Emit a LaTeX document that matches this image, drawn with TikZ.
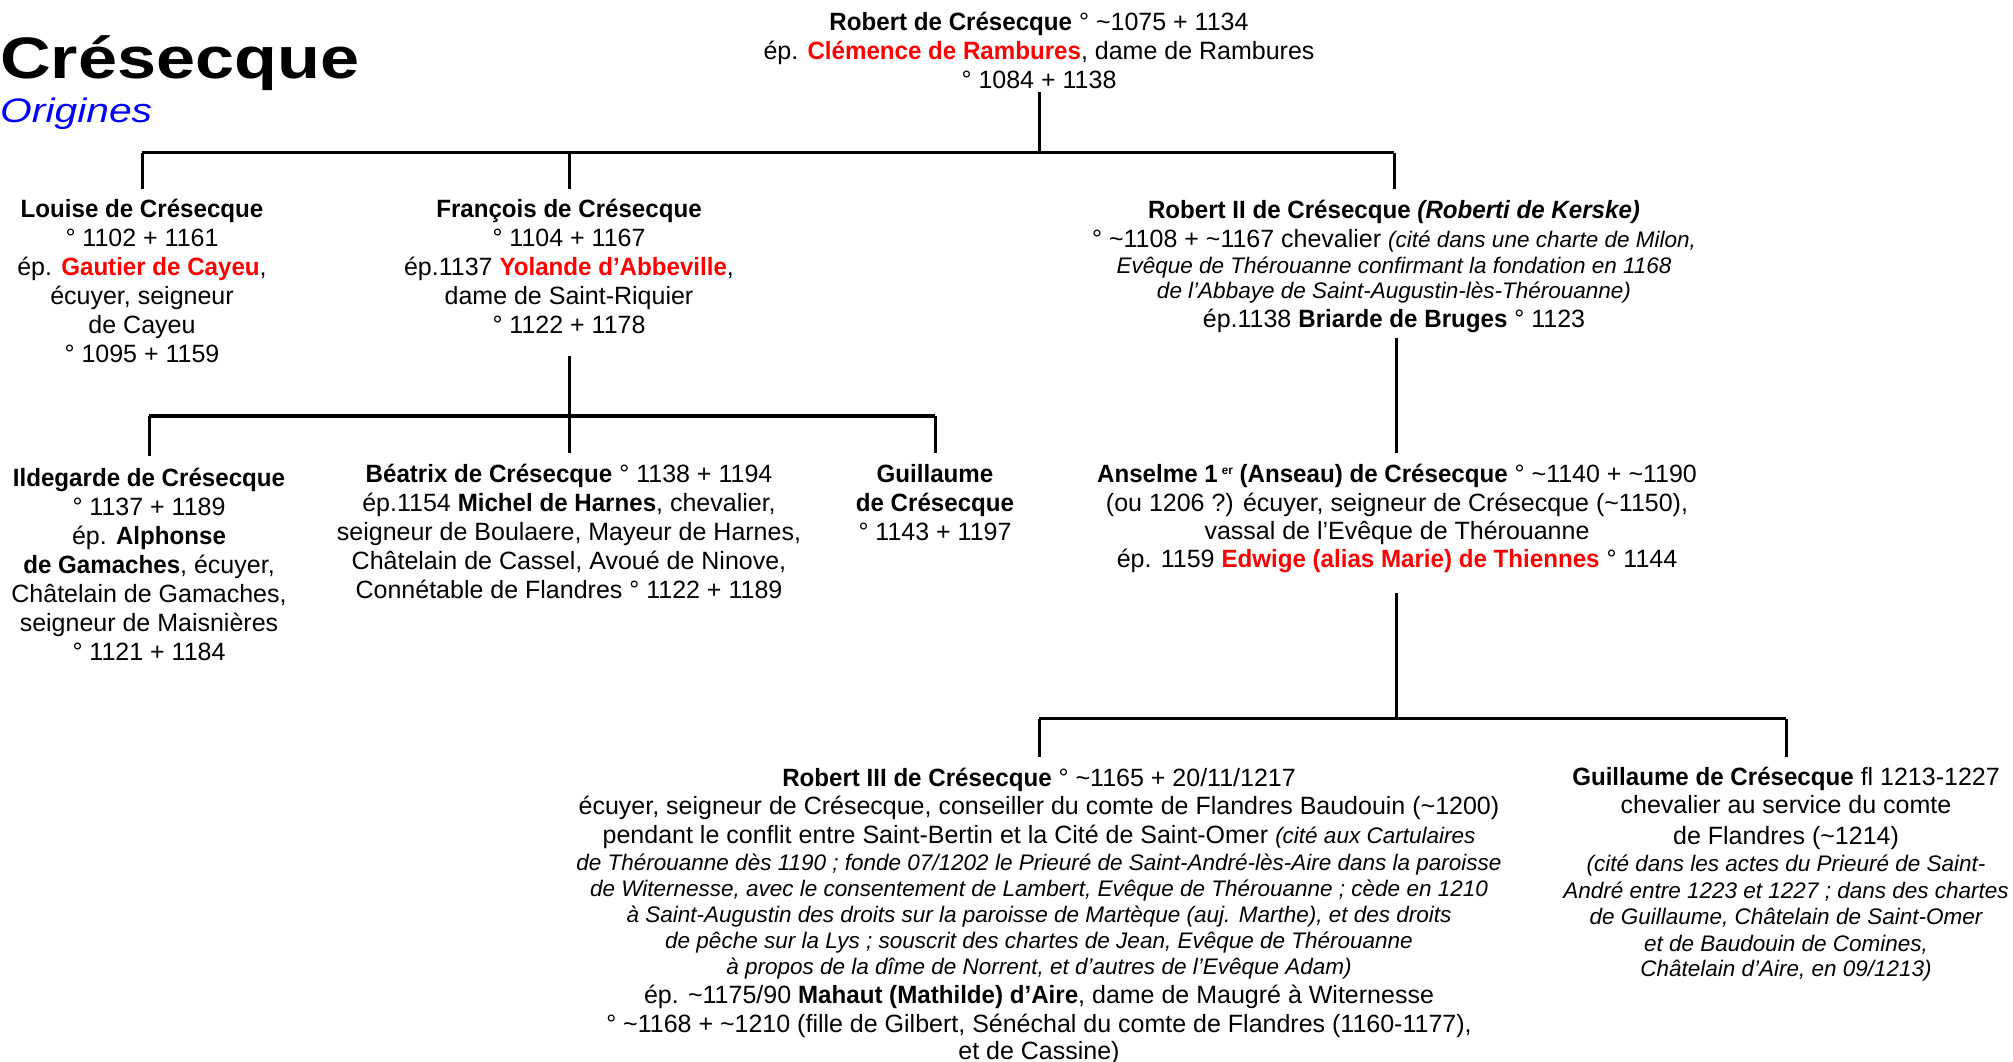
\documentclass[tikz,border=0pt]{standalone}
\usepackage{fontspec}
\setmainfont{Liberation Sans}[BoldFeatures={FakeStretch=0.965},BoldItalicFeatures={FakeStretch=0.965}]
\newfontfamily\titlefont[FakeStretch=1.2]{Liberation Sans}
\definecolor{tred}{RGB}{255,0,0}
\definecolor{tblue}{RGB}{0,0,255}
\newcommand{\tld}{\textasciitilde}
\newcommand{\rd}[1]{\textcolor{tred}{\textbf{#1}}}
\newcommand{\sm}{\fontsize{22.5}{25}\selectfont\itshape}
\newcommand{\pp}[1]{\begin{tabular}[t]{@{}c@{}}#1\end{tabular}}
\newcommand{\bk}[1]{\\\noalign{\vskip #1}}
\newcommand{\supr}[1]{\,\raisebox{8pt}{\fontsize{12}{12}\selectfont #1}}
\tikzset{
  person/.style={anchor=base, inner sep=0pt, font=\fontsize{25}{29}\selectfont},
  vl/.style={line width=3pt},
  hbar/.style={line width=3.5pt}
}
\begin{document}
\begin{tikzpicture}[x=1pt,y=-1pt]
\useasboundingbox (0,0) rectangle (2013,1061);
% title
\node[anchor=base west, inner sep=0pt] (title) at (0,78) {\titlefont\fontsize{58.5}{60}\selectfont\bfseries Crésecque};
\node[anchor=base west, inner sep=0pt, text=tblue] (orig) at (0,122) {\titlefont\fontsize{34}{36}\selectfont\itshape Origines};

% generation 0
\node[person] (root) at (1039,30) {\pp{\textbf{Robert de Crésecque} ° \tld1075 + 1134\\
ép. \rd{Clémence de Rambures}, dame de Rambures\\
° 1084 + 1138}};

% generation 1
\node[person] (louise) at (142,217) {\pp{\textbf{Louise de Crésecque}\\
° 1102 + 1161\\
ép. \rd{Gautier de Cayeu},\\
écuyer, seigneur\\
de Cayeu\\
° 1095 + 1159}};

\node[person] (francois) at (569,217) {\pp{\textbf{François de Crésecque}\\
° 1104 + 1167\\
ép.1137 \rd{Yolande d’Abbeville},\\
dame de Saint-Riquier\\
° 1122 + 1178}};

\node[person] (robii) at (1394,218) {\pp{\textbf{Robert II de Crésecque \textit{(Roberti de Kerske)}}\\
° \tld1108 + \tld1167 chevalier {\sm (cité dans une charte de Milon,}\bk{-3pt}
{\sm Evêque de Thérouanne confirmant la fondation en 1168}\bk{-4pt}
{\sm de l’Abbaye de Saint-Augustin-lès-Thérouanne)}\\
ép.1138 \textbf{Briarde de Bruges} ° 1123}};

% generation 2
\node[person] (ildegarde) at (149,486) {\pp{\textbf{Ildegarde de Crésecque}\\
° 1137 + 1189\\
ép. \textbf{Alphonse}\\
\textbf{de Gamaches}, écuyer,\\
Châtelain de Gamaches,\\
seigneur de Maisnières\\
° 1121 + 1184}};

\node[person] (beatrix) at (569,482) {\pp{\textbf{Béatrix de Crésecque} ° 1138 + 1194\\
ép.1154 \textbf{Michel de Harnes}, chevalier,\\
seigneur de Boulaere, Mayeur de Harnes,\\
Châtelain de Cassel, Avoué de Ninove,\\
Connétable de Flandres ° 1122 + 1189}};

\node[person] (guillaume) at (935,482) {\pp{\textbf{Guillaume}\\
\textbf{de Crésecque}\\
° 1143 + 1197}};

\node[person] (anselme) at (1397,482) {\pp{\textbf{Anselme 1\supr{er} (Anseau) de Crésecque} ° \tld1140 + \tld1190\\
(ou 1206 ?) écuyer, seigneur de Crésecque (\tld1150),\bk{-1pt}
vassal de l’Evêque de Thérouanne\bk{-1pt}
ép. 1159 \rd{Edwige (alias Marie) de Thiennes} ° 1144}};

% generation 3
\node[person] (robiii) at (1039,786) {\pp{\textbf{Robert III de Crésecque} ° \tld1165 + 20/11/1217\bk{-1pt}
écuyer, seigneur de Crésecque, conseiller du comte de Flandres Baudouin (\tld1200)\\
pendant le conflit entre Saint-Bertin et la Cité de Saint-Omer {\sm (cité aux Cartulaires}\bk{-2pt}
{\sm de Thérouanne dès 1190 ; fonde 07/1202 le Prieuré de Saint-André-lès-Aire dans la paroisse}\bk{-3pt}
{\sm de Witernesse, avec le consentement de Lambert, Evêque de Thérouanne ; cède en 1210}\bk{-3pt}
{\sm à Saint-Augustin des droits sur la paroisse de Martèque (auj. Marthe), et des droits}\bk{-3pt}
{\sm de pêche sur la Lys ; souscrit des chartes de Jean, Evêque de Thérouanne}\bk{-3pt}
{\sm à propos de la dîme de Norrent, et d’autres de l’Evêque Adam)}\\
ép. \tld1175/90 \textbf{Mahaut (Mathilde) d’Aire}, dame de Maugré à Witernesse\\
° \tld1168 + \tld1210 (fille de Gilbert, Sénéchal du comte de Flandres (1160-1177),\bk{-2pt}
et de Cassine)}};

\node[person] (guilr) at (1786,785) {\pp{\textbf{Guillaume de Crésecque} fl 1213-1227\bk{-1pt}
chevalier au service du comte\bk{2pt}
de Flandres (\tld1214)\bk{-2pt}
{\sm (cité dans les actes du Prieuré de Saint-}\bk{-2pt}
{\sm André entre 1223 et 1227 ; dans des chartes}\bk{-3pt}
{\sm de Guillaume, Châtelain de Saint-Omer}\bk{-2pt}
{\sm et de Baudouin de Comines,}\bk{-4pt}
{\sm Châtelain d’Aire, en 09/1213)}}};

% junctions
\coordinate (j0) at (1039,152.5);
\coordinate (j1) at (569,416);
\coordinate (j2) at (1396,718.5);

% connectors generation 0 -> 1
\draw[vl, shorten <=-4.5pt] (root.south) -- (root.south |- j0);
\draw[hbar] (louise.north |- j0) -- (robii.north |- j0);
\draw[vl] (louise.north |- j0) -- ([yshift=28pt]louise.base);
\draw[vl] (francois.north |- j0) -- ([yshift=28pt]francois.base);
\draw[vl] (robii.north |- j0) -- ([yshift=29pt]robii.base);

% François -> children
\draw[vl, shorten <=14pt] (francois.south) -- (francois.south |- j1);
\draw[hbar] (ildegarde.north |- j1) -- (guillaume.north |- j1);
\draw[vl] (ildegarde.north |- j1) -- ([yshift=30pt]ildegarde.base);
\draw[vl] (beatrix.north |- j1) -- ([yshift=29pt]beatrix.base);
\draw[vl] (guillaume.north |- j1) -- ([yshift=29pt]guillaume.base);

% Robert II -> Anselme
\draw[vl, shorten <=2pt] (robii.south -| j2) -- ([yshift=29pt]anselme.base -| j2);

% Anselme -> children
\draw[vl, shorten <=17pt] (anselme.south -| j2) -- (j2);
\draw[hbar] (robiii.north |- j2) -- (guilr.north |- j2);
\draw[vl] (robiii.north |- j2) -- ([yshift=29pt]robiii.base);
\draw[vl] (guilr.north |- j2) -- ([yshift=28pt]guilr.base);
\end{tikzpicture}
\end{document}
